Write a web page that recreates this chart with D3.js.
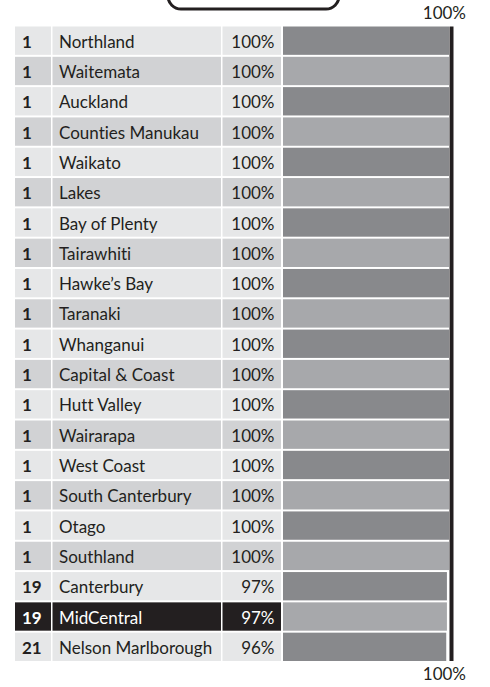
<!DOCTYPE html>
<html>
<head>
<meta charset="utf-8">
<script src="https://cdn.jsdelivr.net/npm/d3@7"></script>
<style>
  body { margin: 0; background: #fff; }
  svg { display: block; font-family: Lato, "Open Sans", sans-serif; font-variant-ligatures: none; }
</style>
</head>
<body>
<div id="chart"></div>
<script>
// rankings of DHBs, share in percent
const ranks = [1, 1, 1, 1, 1, 1, 1, 1, 1, 1, 1, 1, 1, 1, 1, 1, 1, 1, 19, 19, 21];
const regions = ["Northland", "Waitemata", "Auckland", "Counties Manukau", "Waikato",
    "Lakes", "Bay of Plenty", "Tairawhiti", "Hawke’s Bay", "Taranaki", "Whanganui",
    "Capital & Coast", "Hutt Valley", "Wairarapa", "West Coast", "South Canterbury",
    "Otago", "Southland", "Canterbury", "MidCentral", "Nelson Marlborough"];
const values = [100, 100, 100, 100, 100, 100, 100, 100, 100, 100, 100,
    100, 100, 100, 100, 100, 100, 100, 97, 97, 96];
const highlight = "MidCentral";
const targetLabel = "100%";

const width = 490, height = 687;

const svg = d3.select("#chart").append("svg")
    .attr("width", width)
    .attr("height", height);

// cut-off title box at the top
svg.append("rect")
    .attr("x", 168)
    .attr("y", -40)
    .attr("width", 171)
    .attr("height", 49)
    .attr("rx", 13)
    .attr("fill", "none")
    .attr("stroke", "#231f20")
    .attr("stroke-width", 3);

const y = d3.scaleBand()
    .domain(regions)
    .range([26.5, 661])
    .paddingInner(0.065);

// bars only show the top of the range
const x = d3.scaleLinear()
    .domain([-140, 100])
    .range([283, 449]);

const cols = {
    rank: [15, 51],
    name: [52.5, 221],
    value: [222.5, 281]
};

const rows = svg.append("g")
    .selectAll("g")
    .data(regions)
    .join("g")
    .attr("transform", d => `translate(0,${y(d)})`);

const isHi = d => d === highlight;

Object.values(cols).forEach(c => {
    rows.append("rect")
        .attr("x", c[0])
        .attr("width", c[1] - c[0])
        .attr("height", y.bandwidth())
        .attr("fill", (d, i) => isHi(d) ? "#231f20" : (i % 2 ? "#d1d2d4" : "#e6e7e8"));
});

rows.append("rect")
    .attr("x", x(x.domain()[0]))
    .attr("width", (d, i) => x(values[i]) - x(x.domain()[0]))
    .attr("height", y.bandwidth())
    .attr("fill", (d, i) => i % 2 ? "#a7a8ab" : "#88898c");

const textY = y.bandwidth() / 2 + 7;

rows.append("text")
    .attr("x", 22)
    .attr("y", textY)
    .attr("font-size", 17)
    .attr("font-weight", "bold")
    .attr("fill", d => isHi(d) ? "#fff" : "#231f20")
    .text((d, i) => ranks[i]);

rows.append("text")
    .attr("x", 59)
    .attr("y", textY)
    .attr("font-size", 17)
    .attr("fill", d => isHi(d) ? "#fff" : "#231f20")
    .text(d => d);

rows.append("text")
    .attr("x", 274.5)
    .attr("y", textY)
    .attr("font-size", 17)
    .attr("text-anchor", "end")
    .attr("fill", d => isHi(d) ? "#fff" : "#231f20")
    .text((d, i) => values[i] + "%");

// 100% reference line
svg.append("line")
    .attr("x1", x(100) + 2.5)
    .attr("x2", x(100) + 2.5)
    .attr("y1", 26.5)
    .attr("y2", 661)
    .attr("stroke", "#231f20")
    .attr("stroke-width", 4);

[18.5, 680].forEach(ty => {
    svg.append("text")
        .attr("x", 466)
        .attr("y", ty)
        .attr("font-size", 17)
        .attr("text-anchor", "end")
        .attr("fill", "#231f20")
        .text(targetLabel);
});
</script>
</body>
</html>
